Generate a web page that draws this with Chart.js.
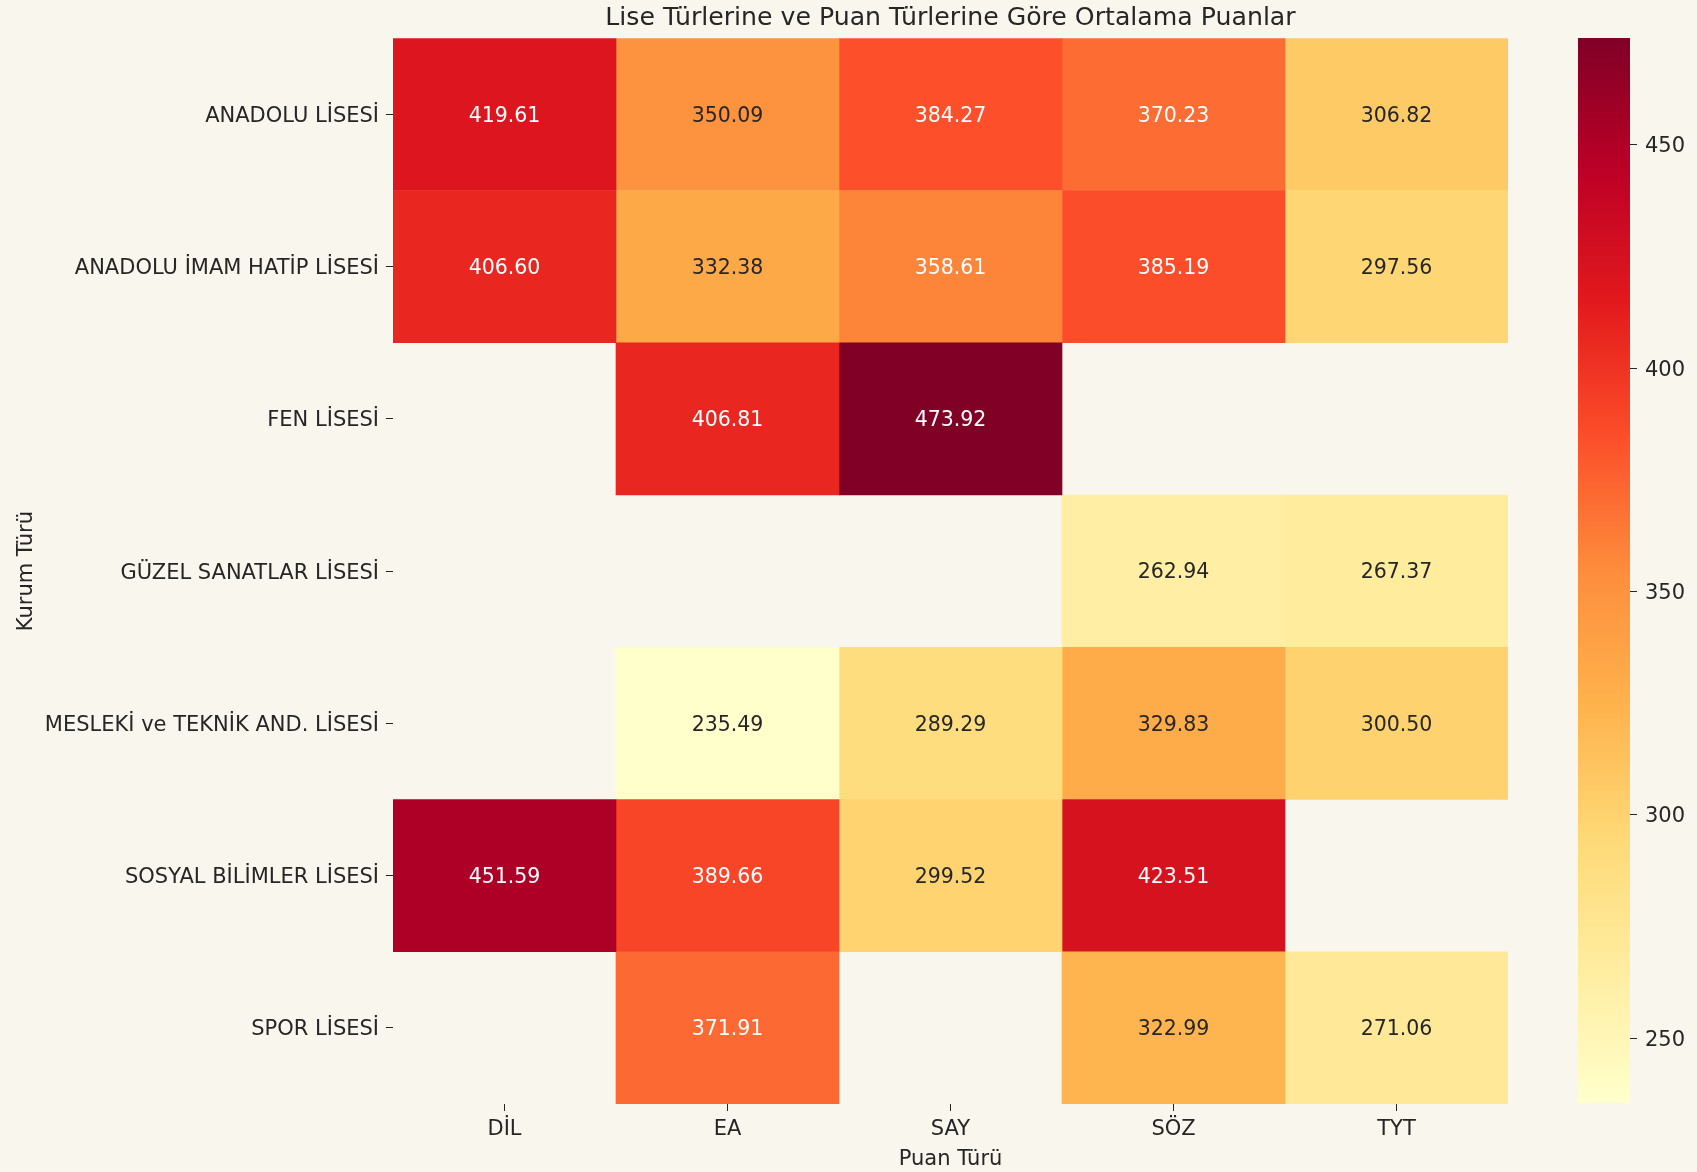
<!DOCTYPE html>
<html lang="tr">
<head>
<meta charset="utf-8">
<title>Lise Türlerine ve Puan Türlerine Göre Ortalama Puanlar</title>
<script src="https://cdn.jsdelivr.net/npm/chart.js@4.4.1/dist/chart.umd.min.js"></script>
<style>
  html, body { margin: 0; padding: 0; background: #f9f6ee; }
  #wrap { position: relative; width: 1697px; height: 1172px; }
  #heatmap { position: absolute; left: 0; top: 0; }
  #colorbar { position: absolute; left: 1500px; top: 0; }
</style>
</head>
<body>
<div id="wrap">
  <canvas id="heatmap" width="1697" height="1172"></canvas>
  <canvas id="colorbar" width="197" height="1172"></canvas>
</div>
<script>
// Veriler
const schoolTypes = [
    'ANADOLU LİSESİ',
    'ANADOLU İMAM HATİP LİSESİ',
    'FEN LİSESİ',
    'GÜZEL SANATLAR LİSESİ',
    'MESLEKİ ve TEKNİK AND. LİSESİ',
    'SOSYAL BİLİMLER LİSESİ',
    'SPOR LİSESİ'
];
const scoreTypes = ['DİL', 'EA', 'SAY', 'SÖZ', 'TYT'];

// Her puan türü için ortalama puanlar (sıra: schoolTypes)
const dilScores = [419.61, 406.60, null, null, null, 451.59, null];
const eaScores  = [350.09, 332.38, 406.81, null, 235.49, 389.66, 371.91];
const sayScores = [384.27, 358.61, 473.92, null, 289.29, 299.52, null];
const sozScores = [370.23, 385.19, null, 262.94, 329.83, 423.51, 322.99];
const tytScores = [306.82, 297.56, null, 267.37, 300.50, null, 271.06];

const colorbarTicks = [250, 300, 350, 400, 450];

const columns = [dilScores, eaScores, sayScores, sozScores, tytScores];
const allValues = columns.flat().filter(v => v !== null);
const vmin = Math.min(...allValues);
const vmax = Math.max(...allValues);

const FONT = "'DejaVu Sans', 'Noto Sans', sans-serif";
const TEXT_DARK = '#262626';

// YlOrRd renk paleti
const YL_OR_RD = ['#ffffcc', '#ffeda0', '#fed976', '#feb24c', '#fd8d3c', '#fc4e2a', '#e31a1c', '#bd0026', '#800026'];

function hexToRgb(h) {
    return [1, 3, 5].map(i => parseInt(h.slice(i, i + 2), 16));
}

function colorFor(value) {
    let t = (value - vmin) / (vmax - vmin);
    t = Math.max(0, Math.min(1, t));
    const p = t * (YL_OR_RD.length - 1);
    const i = Math.min(YL_OR_RD.length - 2, Math.floor(p));
    const f = p - i;
    const a = hexToRgb(YL_OR_RD[i]);
    const b = hexToRgb(YL_OR_RD[i + 1]);
    return a.map((c, k) => Math.round(c + (b[k] - c) * f));
}

function luminance(rgb) {
    const lin = rgb.map(c => {
        c = c / 255;
        return c <= 0.03928 ? c / 12.92 : Math.pow((c + 0.055) / 1.055, 2.4);
    });
    return 0.2126 * lin[0] + 0.7152 * lin[1] + 0.0722 * lin[2];
}

// Hücre üzerindeki değerleri yaz
const cellLabels = {
    id: 'cellLabels',
    afterDatasetsDraw(chart) {
        const ctx = chart.ctx;
        ctx.save();
        ctx.font = '20.5px ' + FONT;
        ctx.textAlign = 'center';
        ctx.textBaseline = 'middle';
        chart.data.datasets.forEach((ds, di) => {
            chart.getDatasetMeta(di).data.forEach((bar, i) => {
                const v = ds.scores[i];
                if (v === null) return;
                const rgb = colorFor(v);
                ctx.fillStyle = luminance(rgb) > 0.408 ? TEXT_DARK : '#ffffff';
                ctx.fillText(v.toFixed(2), (bar.x + bar.base) / 2, bar.y + 2);
            });
        });
        ctx.restore();
    }
};

const datasets = columns.map((scores, c) => ({
    label: scoreTypes[c],
    scores: scores,
    data: scores.map(v => (v === null ? null : [c, c + 1])),
    backgroundColor: ctx => {
        const v = scores[ctx.dataIndex];
        if (v === null) return 'rgba(0,0,0,0)';
        const rgb = colorFor(v);
        return `rgb(${rgb[0]}, ${rgb[1]}, ${rgb[2]})`;
    },
    borderWidth: 0,
    barPercentage: 1,
    categoryPercentage: 1,
    grouped: false
}));

new Chart(document.getElementById('heatmap'), {
    type: 'bar',
    data: { labels: schoolTypes, datasets: datasets },
    options: {
        indexAxis: 'y',
        responsive: false,
        animation: false,
        layout: { padding: { left: 0, right: 189, top: 0, bottom: 0 } },
        plugins: {
            legend: { display: false },
            tooltip: { enabled: false },
            title: {
                display: true,
                text: 'Lise Türlerine ve Puan Türlerine Göre Ortalama Puanlar',
                color: TEXT_DARK,
                fullSize: false,
                font: { family: FONT, size: 25.2, weight: 'normal' },
                padding: { top: 3, bottom: 5 }
            }
        },
        scales: {
            x: {
                type: 'linear',
                min: 0,
                max: scoreTypes.length,
                afterBuildTicks: scale => {
                    scale.ticks = scoreTypes.map((_, i) => ({ value: i + 0.5 }));
                },
                afterFit: scale => { scale.height = 68; },
                ticks: {
                    callback: v => scoreTypes[Math.floor(v)],
                    color: TEXT_DARK,
                    font: { family: FONT, size: 21 },
                    padding: 6,
                    maxRotation: 0,
                    autoSkip: false
                },
                grid: { drawOnChartArea: false, drawTicks: true, tickLength: 7, color: TEXT_DARK },
                border: { display: false },
                title: {
                    display: true,
                    text: 'Puan Türü',
                    color: TEXT_DARK,
                    font: { family: FONT, size: 21 },
                    padding: { top: 0, bottom: 0 }
                }
            },
            y: {
                type: 'category',
                offset: true,
                afterFit: scale => { scale.width = 393; },
                ticks: {
                    color: TEXT_DARK,
                    font: { family: FONT, size: 21 },
                    padding: 7,
                    labelOffset: 2,
                    autoSkip: false
                },
                grid: { offset: false, drawOnChartArea: false, drawTicks: true, tickLength: 7, color: TEXT_DARK },
                border: { display: false },
                title: {
                    display: true,
                    text: 'Kurum Türü',
                    color: TEXT_DARK,
                    font: { family: FONT, size: 21 },
                    padding: { top: 14, bottom: 0 }
                }
            }
        }
    },
    plugins: [cellLabels]
});

// Renk çubuğu
new Chart(document.getElementById('colorbar'), {
    type: 'bar',
    data: {
        labels: [''],
        datasets: [{
            data: [[vmin, vmax]],
            backgroundColor: ctx => {
                const area = ctx.chart.chartArea;
                if (!area) return YL_OR_RD[0];
                const g = ctx.chart.ctx.createLinearGradient(0, area.bottom, 0, area.top);
                YL_OR_RD.forEach((c, i) => g.addColorStop(i / (YL_OR_RD.length - 1), c));
                return g;
            },
            borderWidth: 0,
            barPercentage: 1,
            categoryPercentage: 1
        }]
    },
    options: {
        responsive: false,
        animation: false,
        layout: { padding: { left: 78, right: 0, top: 38, bottom: 69 } },
        plugins: { legend: { display: false }, tooltip: { enabled: false } },
        scales: {
            x: { display: false },
            y: {
                position: 'right',
                min: vmin,
                max: vmax,
                afterBuildTicks: scale => {
                    scale.ticks = colorbarTicks.map(v => ({ value: v }));
                },
                afterFit: scale => { scale.width = 67; },
                ticks: {
                    color: TEXT_DARK,
                    font: { family: FONT, size: 21 },
                    padding: 8,
                    labelOffset: 2
                },
                grid: { drawOnChartArea: false, drawTicks: true, tickLength: 7, color: TEXT_DARK },
                border: { display: false }
            }
        }
    }
});
</script>
</body>
</html>
